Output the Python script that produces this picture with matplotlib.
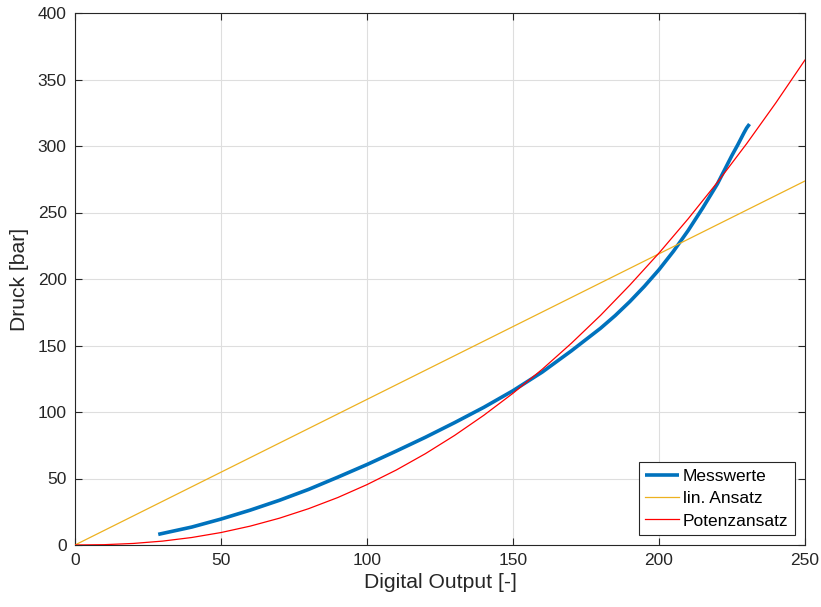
import matplotlib
matplotlib.use("Agg")
import matplotlib.pyplot as plt

# Messwerte (measured data)
mess_x = [28.5, 40, 50, 60, 70, 80, 90, 100, 110, 120, 130, 140, 150, 160,
          170, 180, 185, 190, 195, 200, 205, 210, 215, 220, 225, 227, 229, 230, 231]
mess_y = [8.0, 13.5, 19.5, 26.2, 33.6, 41.8, 51.0, 60.5, 70.6, 81.0, 92.0, 103.5, 116.0,
          130.0, 146.0, 163.0, 172.5, 183.0, 194.5, 207.0, 221.0, 236.5, 253.5, 271.5,
          293.0, 301.0, 309.5, 313.5, 316.5]

# lin. Ansatz
lin_x = [0, 250]
lin_y = [0, 273.7]

# Potenzansatz
pot_x = [0, 10, 20, 30, 40, 50, 60, 70, 80, 90, 100, 110, 120, 130, 140, 150, 160,
         170, 180, 190, 200, 210, 220, 230, 240, 250]
pot_y = [0, 0.24, 1.17, 2.93, 5.64, 9.37, 14.19, 20.15, 27.31, 35.69, 45.4, 56.35,
         68.67, 82.39, 97.52, 114.1, 132.1, 151.7, 172.7, 195.4, 219.5, 245.3, 272.7,
         301.7, 332.4, 364.7]

x_ticks = [0, 50, 100, 150, 200, 250]
y_ticks = [0, 50, 100, 150, 200, 250, 300, 350, 400]

plt.rcParams['font.family'] = ['Liberation Sans', 'DejaVu Sans']

fig = plt.figure(figsize=(8.21, 6.07), dpi=100)
ax = fig.add_axes([75/821, 62/607, 730/821, 532/607])

ax.plot(mess_x, mess_y, color='#0072BD', lw=2.6, label='Messwerte',
        solid_capstyle='butt', solid_joinstyle='round', zorder=3)
ax.plot(lin_x, lin_y, color='#EDB120', lw=0.9, label='lin. Ansatz', zorder=3)
ax.plot(pot_x, pot_y, color='#FF0000', lw=0.9, label='Potenzansatz', zorder=4)

ax.set_xlim(0, 250)
ax.set_ylim(0, 400)
ax.set_xticks(x_ticks)
ax.set_yticks(y_ticks)
ax.grid(True, color='#dedede', lw=0.8)
ax.set_axisbelow(True)

for s in ax.spines.values():
    s.set_color('#262626')
    s.set_linewidth(0.8)
ax.tick_params(direction='in', length=5, width=0.8, colors='#262626',
               labelsize=12.5, top=True, right=True, pad=6)

ax.set_xlabel('Digital Output [-]', fontsize=15.2, color='#262626', labelpad=3)
ax.set_ylabel('Druck [bar]', fontsize=15.2, color='#262626', labelpad=6)

leg = ax.legend(loc='lower right', fontsize=12.5, frameon=True, fancybox=False,
                edgecolor='#262626', framealpha=1, borderpad=0.35, labelspacing=0.42,
                handlelength=1.95, handletextpad=0.25, borderaxespad=0.6)
leg.get_frame().set_linewidth(0.8)

fig.savefig('out.png', dpi=100)
